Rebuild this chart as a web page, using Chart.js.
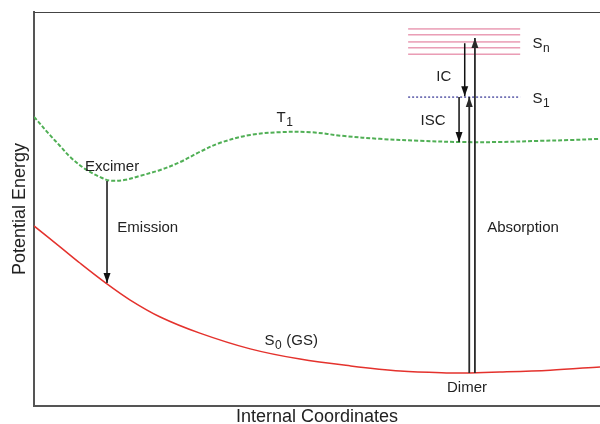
<!DOCTYPE html>
<html>
<head>
<meta charset="utf-8">
<script src="https://cdn.jsdelivr.net/npm/chart.js@4"></script>
<style>
  html, body { margin: 0; padding: 0; background: #fff; }
</style>
</head>
<body>
<canvas id="grafico" width="600" height="424"></canvas>
<script>
// Curva S0 (GS) - coordenada interna x energia (0 a 10)
let s0X = [0, 0.46, 0.81, 1.27, 1.70, 2.23, 2.93, 3.82, 4.70, 5.58, 6.47, 7.35, 7.70, 8.23, 9.12, 10];
let s0Y = [4.57, 4.04, 3.63, 3.12, 2.69, 2.26, 1.85, 1.45, 1.19, 1.02, 0.89, 0.84, 0.84, 0.86, 0.91, 0.99];

// Curva T1
let t1X = [0, 0.28, 0.46, 0.64, 0.90, 1.17, 1.34, 1.61, 1.87, 2.23, 2.58, 2.93, 3.29, 3.82, 4.35, 4.88, 5.49, 6.11, 6.82, 7.53, 8.23, 8.94, 9.47, 10];
let t1Y = [7.34, 6.88, 6.60, 6.32, 6.02, 5.81, 5.72, 5.74, 5.84, 5.99, 6.19, 6.45, 6.68, 6.88, 6.95, 6.95, 6.85, 6.78, 6.73, 6.70, 6.70, 6.73, 6.75, 6.78];

// Niveis Sn e S1 (faixa horizontal)
let niveisSn = [9.57, 9.42, 9.24, 9.09, 8.93];
let nivelS1 = 7.84;
let nivelInicio = 6.61;
let nivelFim = 8.59;

// Setas: posicao x, energia inicial, energia final
let setaX = [1.29, 7.61, 7.51, 7.69, 7.79];
let setaDe = [5.71, 9.21, 7.84, 0.84, 0.84];
let setaAte = [3.12, 7.86, 6.70, 7.84, 9.34];

// Rotulos
let rotTexto = ['T', 'Excimer', 'Emission', 'Absorption', 'S', 'Dimer', 'IC', 'ISC', 'S', 'S'];
let rotSub = ['1', '', '', '', '0', '', '', '', '1', 'n'];
let rotResto = ['', '', '', '', ' (GS)', '', '', '', '', ''];
let rotX = [4.43, 1.38, 2.01, 8.64, 4.54, 7.65, 7.24, 7.05, 8.96, 8.96];
let rotY = [7.31, 6.07, 4.52, 4.52, 1.65, 0.46, 8.35, 7.23, 7.79, 9.19];

function pontos(xs, ys) {
    return xs.map((x, i) => ({ x: x, y: ys[i] }));
}

let datasets = [];

// setas primeiro para ficarem por cima
setaX.forEach((x, i) => {
    datasets.push({
        data: [{ x: x, y: setaDe[i] }, { x: x, y: setaAte[i] }],
        borderColor: i >= 3 ? '#2a2a2a' : '#111111',
        borderWidth: i >= 3 ? 1.8 : 1.5,
        pointRadius: 0,
        seta: true
    });
});

datasets.push({
    data: pontos(t1X, t1Y),
    borderColor: 'rgba(80, 175, 85, 1)',
    borderWidth: 2,
    borderDash: [4, 2],
    pointRadius: 0,
    tension: 0.35
});

datasets.push({
    data: pontos(s0X, s0Y),
    borderColor: 'rgba(228, 50, 45, 1)',
    borderWidth: 1.5,
    pointRadius: 0,
    tension: 0.35
});

niveisSn.forEach(n => {
    datasets.push({
        data: [{ x: nivelInicio, y: n }, { x: nivelFim, y: n }],
        borderColor: 'rgba(215, 70, 115, 0.8)',
        borderWidth: 1,
        pointRadius: 0
    });
});

datasets.push({
    data: [{ x: nivelInicio, y: nivelS1 }, { x: nivelFim, y: nivelS1 }],
    borderColor: '#5a5aa8',
    borderWidth: 1.5,
    borderDash: [2, 2],
    pointRadius: 0
});

const pluginSetas = {
    id: 'setas',
    afterDatasetsDraw(chart) {
        const ctx = chart.ctx;
        chart.data.datasets.forEach((ds, i) => {
            if (!ds.seta) return;
            const pts = chart.getDatasetMeta(i).data;
            const a = pts[0], b = pts[pts.length - 1];
            const ang = Math.atan2(b.y - a.y, b.x - a.x);
            const len = 10, larg = 3.5;
            const c = Math.cos(ang), s = Math.sin(ang);
            ctx.save();
            ctx.fillStyle = ds.borderColor;
            ctx.beginPath();
            ctx.moveTo(b.x, b.y);
            ctx.lineTo(b.x - len * c + larg * s, b.y - len * s - larg * c);
            ctx.lineTo(b.x - len * c - larg * s, b.y - len * s + larg * c);
            ctx.closePath();
            ctx.fill();
            ctx.restore();
        });
    }
};

const pluginRotulos = {
    id: 'rotulos',
    afterDraw(chart) {
        const ctx = chart.ctx;
        const sx = chart.scales.x, sy = chart.scales.y;
        const fonte = '15px "Liberation Sans", Arial, sans-serif';
        const fonteSub = '12px "Liberation Sans", Arial, sans-serif';
        ctx.save();
        ctx.fillStyle = '#222';
        ctx.textBaseline = 'middle';
        ctx.textAlign = 'left';
        rotTexto.forEach((t, i) => {
            ctx.font = fonte;
            const w1 = ctx.measureText(t).width;
            const w3 = ctx.measureText(rotResto[i]).width;
            ctx.font = fonteSub;
            const w2 = rotSub[i] ? ctx.measureText(rotSub[i]).width + 0.5 : 0;
            const cx = sx.getPixelForValue(rotX[i]);
            const cy = sy.getPixelForValue(rotY[i]);
            let x = cx - (w1 + w2 + w3) / 2;
            ctx.font = fonte;
            ctx.fillText(t, x, cy);
            x += w1 + 0.5;
            if (rotSub[i]) {
                ctx.font = fonteSub;
                ctx.fillText(rotSub[i], x, cy + 5);
                x += w2;
            }
            if (rotResto[i]) {
                ctx.font = fonte;
                ctx.fillText(rotResto[i], x, cy);
            }
        });
        // linha superior da moldura
        const area = chart.chartArea;
        ctx.strokeStyle = '#444';
        ctx.lineWidth = 1;
        ctx.beginPath();
        ctx.moveTo(area.left, area.top + 0.5);
        ctx.lineTo(area.right, area.top + 0.5);
        ctx.stroke();
        ctx.restore();
    }
};

let ctx1 = document.getElementById('grafico').getContext('2d');
let grafico1 = new Chart(ctx1, {
    type: 'line',
    data: { datasets: datasets },
    plugins: [pluginSetas, pluginRotulos],
    options: {
        responsive: false,
        animation: false,
        layout: { padding: { top: 12, right: 0, left: 0, bottom: 0 } },
        plugins: {
            legend: { display: false },
            tooltip: { enabled: false }
        },
        scales: {
            x: {
                type: 'linear',
                min: 0,
                max: 10,
                ticks: { display: false },
                grid: { display: false, drawTicks: false },
                border: { display: true, color: '#555', width: 2 },
                title: {
                    display: true,
                    text: 'Internal Coordinates',
                    color: '#222',
                    font: { size: 18, family: '"Liberation Sans", Arial, sans-serif' },
                    padding: { top: 0, bottom: -3.5 }
                },
                afterFit: (scale) => { scale.height = 18; }
            },
            y: {
                type: 'linear',
                min: 0,
                max: 10,
                ticks: { display: false },
                grid: { display: false, drawTicks: false },
                border: { display: true, color: '#555', width: 2 },
                title: {
                    display: true,
                    text: 'Potential Energy',
                    color: '#222',
                    font: { size: 18, family: '"Liberation Sans", Arial, sans-serif' },
                    padding: { top: 9.5, bottom: 0 }
                },
                afterFit: (scale) => { scale.width = 34; }
            }
        }
    }
});
</script>
</body>
</html>
